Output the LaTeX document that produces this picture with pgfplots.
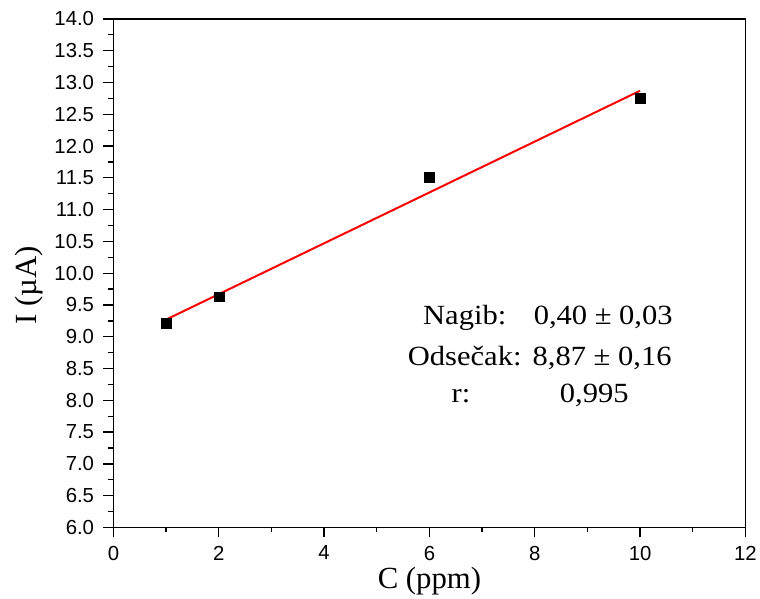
\documentclass[border=0pt]{standalone}
\usepackage{pgfplots}
\pgfplotsset{compat=1.18}
\usepackage{fontspec}
\setmainfont{Liberation Serif}
\newfontfamily\arialf{Liberation Sans}
\begin{document}
\begin{tikzpicture}
\begin{axis}[
  name=ax,
  scale only axis,
  width=635bp, height=511bp,
  xmin=0, xmax=12, ymin=6, ymax=14,
  xtick={0,2,...,12},
  ytick={6,6.5,...,14},
  minor x tick num=1,
  minor y tick num=1,
  tick align=outside,
  xtick pos=bottom, ytick pos=left,
  major tick length=10bp,
  minor tick length=5bp,
  axis line style={line width=1.3bp},
  every tick/.style={line width=1.3bp, black},
  /pgf/number format/assume math mode=true,
  tick label style={font=\arialf\fontsize{20.5}{22}\selectfont},
  yticklabel style={xshift=-6bp, /pgf/number format/.cd, fixed, fixed zerofill, precision=1},
  xticklabel style={yshift=-5bp, /pgf/number format/.cd, fixed, precision=0},
  xlabel={C (ppm)},
  ylabel={I (µA)},
  xlabel style={font=\fontsize{31}{33}\selectfont, at={(axis description cs:0.5,-0.121)}, anchor=base},
  ylabel style={font=\fontsize{31}{33}\selectfont, at={(axis description cs:-0.1213,0.4755)}, anchor=base},
  clip=false,
]
\addplot[only marks, mark=square*, mark size=5bp, black] coordinates {
  (1,9.22) (2,9.63) (6,11.51) (10,12.76)
};
\addplot[red, line width=2bp, no marks] coordinates {
  (1,9.27) (10,12.87)
};
\tikzset{ann/.style={anchor=base, font=\fontsize{28}{30}\selectfont, xscale=1.1}}
\node[ann] at (axis cs:6.67,9.19) {Nagib:};
\node[ann] at (axis cs:6.67,8.55) {Odsečak:};
\node[ann] at (axis cs:6.60,7.96) {r:};
\node[ann] at (axis cs:9.30,9.19) {0,40 ± 0,03};
\node[ann] at (axis cs:9.28,8.55) {8,87 ± 0,16};
\node[ann] at (axis cs:9.13,7.96) {0,995};
\end{axis}
\path ([xshift=-114bp,yshift=-71bp]ax.south west) rectangle ([xshift=11bp,yshift=19bp]ax.north east);
\end{tikzpicture}
\end{document}
